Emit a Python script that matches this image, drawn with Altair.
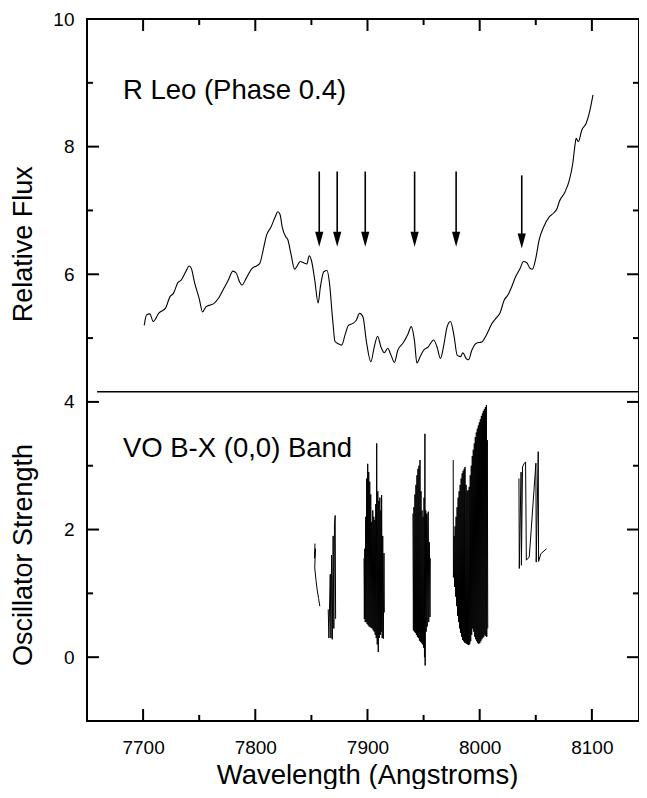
import altair as alt
import pandas as pd

FONT = "Liberation Sans"

# ---- R Leo spectrum (wavelength in Angstroms, relative flux) ----
spec_wl = [7701, 7703, 7706, 7709, 7714, 7720, 7724, 7727, 7731, 7734, 7738, 7741, 7743,
           7746, 7750, 7753, 7756, 7760, 7763, 7767, 7772, 7776, 7780, 7783, 7786, 7788,
           7792, 7797, 7801, 7804, 7807, 7810, 7814, 7818, 7820, 7822, 7824, 7827, 7829,
           7832, 7835, 7837, 7840, 7843, 7846, 7848, 7850, 7853, 7856, 7858, 7861, 7864,
           7866, 7869, 7871, 7874, 7877, 7880, 7883, 7887, 7890, 7893, 7896, 7899, 7903,
           7906, 7909, 7912, 7915, 7918, 7921, 7924, 7927, 7932, 7936, 7939, 7942, 7944,
           7947, 7950, 7954, 7959, 7962, 7965, 7968, 7971, 7974, 7977, 7980, 7983, 7985,
           7988, 7990, 7993, 7997, 8002, 8006, 8011, 8015, 8018, 8022, 8025, 8028, 8032,
           8036, 8039, 8042, 8045, 8047, 8050, 8053, 8057, 8062, 8066, 8069, 8071, 8076,
           8080, 8083, 8085, 8086, 8088, 8091, 8095, 8098, 8101]
spec_flux = [5.20, 5.36, 5.38, 5.26, 5.39, 5.47, 5.65, 5.70, 5.87, 5.91, 6.04, 6.13, 6.09,
             5.86, 5.62, 5.41, 5.49, 5.52, 5.54, 5.62, 5.78, 5.91, 6.05, 6.02, 5.88, 5.83,
             5.94, 6.09, 6.13, 6.17, 6.38, 6.61, 6.74, 6.91, 6.98, 6.94, 6.74, 6.59, 6.54,
             6.30, 6.08, 6.12, 6.20, 6.18, 6.16, 6.29, 6.22, 5.91, 5.55, 5.80, 6.04, 6.06,
             5.88, 5.28, 4.95, 4.91, 4.89, 5.05, 5.20, 5.23, 5.28, 5.39, 5.33, 4.95, 4.63,
             4.86, 5.03, 4.86, 4.77, 4.84, 4.73, 4.62, 4.81, 4.93, 5.06, 5.18, 4.94, 4.61,
             4.71, 4.81, 4.86, 4.97, 4.86, 4.68, 4.89, 5.18, 5.26, 5.05, 4.73, 4.71, 4.77,
             4.68, 4.66, 4.81, 4.92, 4.94, 5.05, 5.23, 5.32, 5.39, 5.60, 5.67, 5.78, 5.96,
             6.09, 6.20, 6.18, 6.09, 6.08, 6.25, 6.54, 6.74, 6.90, 6.96, 7.03, 7.14, 7.29,
             7.48, 7.74, 8.03, 8.13, 8.08, 8.26, 8.37, 8.55, 8.81]

# ---- VO B-X (0,0) oscillator strengths, one list per line group ----
vo1_wl = [7853.2, 7852.8, 7853.6, 7853.0, 7854.0, 7855.2, 7856.4, 7857.5]
vo1_f = [1.78, 1.55, 1.70, 1.40, 1.22, 1.05, 0.92, 0.80]

vo2_wl = [7865.0, 7865.6, 7866.8, 7867.4, 7868.0, 7868.6, 7869.4, 7870.0, 7870.6, 7871.2, 7871.6]
vo2_f = [0.75, 0.30, 1.30, 0.30, 1.60, 0.28, 1.90, 0.45, 2.10, 2.22, 0.60]

vo3_wl = [7896.9, 7897.2, 7897.6, 7898.0, 7898.4, 7898.8, 7899.3, 7899.7, 7900.2, 7900.6,
          7901.1, 7901.5, 7902.0, 7902.4, 7902.9, 7903.3, 7903.8, 7904.2, 7904.7, 7905.1,
          7905.6, 7906.0, 7906.5, 7906.9, 7907.4, 7907.8, 7908.2, 7908.7, 7909.2, 7909.6,
          7910.1, 7910.5, 7911.0, 7911.4, 7911.9, 7912.3, 7912.6, 7913.1, 7913.6, 7914.1,
          7914.7, 7915.0]
vo3_f = [1.55, 0.60, 1.70, 0.55, 2.20, 0.55, 2.80, 0.52, 3.03, 0.50,
         2.90, 0.48, 2.75, 0.47, 2.55, 0.46, 2.12, 0.45, 2.30, 0.42,
         2.20, 0.40, 2.15, 0.35, 2.40, 0.30, 3.35, 0.20, 2.60, 0.08,
         2.45, 0.30, 2.50, 0.35, 2.30, 0.40, 2.54, 0.30, 1.90, 0.29,
         1.63, 0.70]

vo4_wl = [7940.5, 7940.9, 7941.4, 7941.8, 7942.3, 7942.7, 7943.2, 7943.6, 7944.1, 7944.5,
          7945.0, 7945.4, 7945.9, 7946.3, 7946.8, 7947.2, 7947.7, 7948.1, 7948.6, 7949.0,
          7949.5, 7949.9, 7950.4, 7950.8, 7951.2, 7951.4, 7951.9, 7952.3, 7952.8, 7953.2,
          7953.7, 7954.2, 7954.6, 7955.1, 7955.7, 7956.0]
vo4_f = [2.25, 0.42, 2.35, 0.40, 2.55, 0.38, 2.70, 0.35, 2.85, 0.32,
         2.95, 0.30, 3.00, 0.26, 3.09, 0.24, 2.60, 0.22, 2.30, 0.20,
         2.20, 0.15, 2.50, 0.00, 3.50, -0.13, 2.30, 0.40, 2.25, 0.48,
         2.20, 2.28, 0.55, 1.80, 0.63, 1.55]

vo5_wl = [7976.4, 7976.6, 7977.2, 7977.6, 7978.1, 7978.5, 7979.0, 7979.4, 7979.9, 7980.3,
          7980.8, 7981.2, 7981.7, 7982.1, 7982.6, 7983.0, 7983.5, 7983.9, 7984.4, 7984.8,
          7985.3, 7985.7, 7986.2, 7986.6, 7986.9, 7987.4, 7987.9, 7988.3, 7988.8, 7989.2,
          7989.7, 7990.1, 7990.7, 7991.1, 7991.6, 7992.0, 7992.5, 7992.9, 7993.4, 7993.8,
          7994.3, 7994.7, 7995.2, 7995.6, 7996.1, 7996.5, 7997.0, 7997.4, 7997.9, 7998.3,
          7998.8, 7999.2, 7999.7, 8000.1, 8000.6, 8001.0, 8001.5, 8001.9, 8002.4, 8002.8,
          8003.3, 8003.7, 8004.2, 8004.6, 8005.1, 8005.5, 8006.0, 8006.3, 8006.8, 8007.2]
vo5_f = [3.09, 1.25, 1.90, 1.10, 2.05, 0.95, 2.20, 0.80, 2.35, 0.65,
         2.50, 0.55, 2.60, 0.45, 2.70, 0.38, 2.80, 0.32, 2.88, 0.27,
         2.92, 0.25, 2.95, 0.23, 2.98, 0.22, 2.70, 0.21, 2.60, 0.20,
         2.62, 0.19, 2.67, 0.20, 2.85, 0.25, 3.00, 0.35, 3.15, 0.45,
         3.25, 0.40, 3.35, 0.32, 3.45, 0.28, 3.52, 0.25, 3.58, 0.22,
         3.63, 0.21, 3.68, 0.22, 3.73, 0.25, 3.78, 0.28, 3.82, 0.30,
         3.86, 0.32, 3.89, 0.35, 3.92, 0.33, 3.95, 0.32, 3.40, 0.45]

vo6_wl = [8035.0, 8035.3, 8036.9, 8037.2, 8038.2, 8039.5, 8040.9, 8041.6, 8044.2, 8050.1,
          8050.4, 8052.2, 8052.5, 8054.5, 8059.6]
vo6_f = [2.80, 1.39, 2.90, 1.44, 2.98, 3.03, 3.06, 1.52, 1.57, 3.04,
         1.49, 3.22, 1.50, 1.62, 1.70]

# ---- arrows marking the VO band heads ----
arrow_wl = [7857, 7873, 7898, 7942, 7979, 8037.5]
arrow_top = [7.61, 7.61, 7.61, 7.61, 7.61, 7.55]
arrow_head = [6.55, 6.55, 6.55, 6.55, 6.55, 6.52]

# ---- separator between the two panels ----
sep_wl = [7659]
sep_wl2 = [8142]
sep_y = [4.16]

# ---- in-plot labels ----
note_text = ["R Leo (Phase 0.4)", "VO B-X (0,0) Band"]
note_wl = [7682, 7682]
note_y = [8.74, 3.14]

ytitle_text = ["Relative Flux", "Oscillator Strength"]
ytitle_y = [6.47, 1.60]

# ---- axis ticks ----
x_major = [7700, 7800, 7900, 8000, 8100]
x_minor = [7750, 7850, 7950, 8050]
y_major = [0, 2, 4, 6, 8, 10]
y_minor = [-1, 1, 3, 5, 7, 9]

W, H = 552, 702
MAJ, MIN = 12, 6

xs = alt.Scale(domain=[7650, 8142], nice=False, zero=False)
ys = alt.Scale(domain=[-1, 10], nice=False, zero=False)

xaxis = alt.Axis(values=x_major, format="d", title="Wavelength (Angstroms)",
                 ticks=False, tickSize=0, domain=False, grid=False,
                 labelPadding=17, titleY=62, titleX=280, titleAlign="center",
                 titleBaseline="alphabetic",
                 labelFontSize=19, titleFontSize=27.5, labelFont=FONT, titleFont=FONT,
                 labelColor="black", titleColor="black", titleFontWeight="normal")
yaxis = alt.Axis(values=y_major, format="d", title=None,
                 ticks=False, tickSize=0, domain=False, grid=False,
                 labelPadding=13, labelFontSize=19, labelFont=FONT, labelColor="black")

spec_df = pd.DataFrame({"wl": spec_wl, "y": spec_flux})

vo_rows = []
for name, wls, fs in [("b1", vo1_wl, vo1_f), ("b2", vo2_wl, vo2_f), ("b3", vo3_wl, vo3_f),
                      ("b4", vo4_wl, vo4_f), ("b5", vo5_wl, vo5_f), ("b6", vo6_wl, vo6_f)]:
    for i, (w, f) in enumerate(zip(wls, fs)):
        vo_rows.append({"band": name, "i": i, "wl": w, "y": f})
vo_df = pd.DataFrame(vo_rows)

arrow_df = pd.DataFrame({"wl": arrow_wl, "y": arrow_top, "y2": arrow_head})
head_df = pd.DataFrame({"wl": arrow_wl, "y": arrow_head})
sep_df = pd.DataFrame({"wl": sep_wl, "wl2": sep_wl2, "y": sep_y})
note_df = pd.DataFrame({"wl": note_wl, "y": note_y, "t": note_text})
ytitle_df = pd.DataFrame({"y": ytitle_y, "t": ytitle_text})

X = alt.X("wl:Q", scale=xs, axis=xaxis)
Y = alt.Y("y:Q", scale=ys, axis=yaxis)

layers = []

def xticks(vals, length):
    d = pd.DataFrame({"wl": vals})
    base = alt.Chart(d).mark_rule(color="black", strokeWidth=2)
    return [
        base.encode(x=X, y=alt.value(H), y2=alt.value(H - length)),
        base.encode(x=X, y=alt.value(0), y2=alt.value(length)),
    ]

def yticks(vals, length):
    d = pd.DataFrame({"y": vals})
    base = alt.Chart(d).mark_rule(color="black", strokeWidth=2)
    return [
        base.encode(y=Y, x=alt.value(0), x2=alt.value(length)),
        base.encode(y=Y, x=alt.value(W - length), x2=alt.value(W)),
    ]

layers += xticks(x_major, MAJ) + xticks(x_minor, MIN)
layers += yticks(y_major, MAJ) + yticks(y_minor, MIN)

spectrum = alt.Chart(spec_df).mark_line(color="black", strokeWidth=1.1, interpolate="monotone").encode(
    x=X, y=Y)

vo = alt.Chart(vo_df).mark_line(color="black", strokeWidth=1).encode(
    x=X, y=Y, detail="band:N", order="i:Q")

shafts = alt.Chart(arrow_df).mark_rule(color="black", strokeWidth=1.6).encode(
    x=X, y=Y, y2="y2:Q")

heads = alt.Chart(head_df).mark_point(
    shape="M -0.55 -1 L 0.55 -1 L 0 1 Z", filled=True, size=225, color="black",
    opacity=1, strokeWidth=0).encode(x=X, y=Y)

sep = alt.Chart(sep_df).mark_rule(color="black", strokeWidth=1.5).encode(
    x=X, x2="wl2:Q", y=Y)

notes = alt.Chart(note_df).mark_text(
    align="left", baseline="alphabetic", fontSize=27.5, font=FONT, color="black").encode(
    x=X, y=Y, text="t:N")

ytitles = alt.Chart(ytitle_df).mark_text(
    angle=270, align="center", baseline="middle", fontSize=27, font=FONT, color="black").encode(
    x=alt.value(-63.5), y=Y, text="t:N")

layers += [spectrum, vo, shafts, heads, sep, notes, ytitles]

chart = alt.layer(*layers).properties(
    width=W, height=H,
    autosize=alt.AutoSizeParams(type="none"),
    padding={"left": 79, "top": 11, "right": 0, "bottom": 68},
    background="white",
).configure_view(stroke="black", strokeWidth=2)

chart.save("out.html", embed_options={"renderer": "svg", "actions": False})
